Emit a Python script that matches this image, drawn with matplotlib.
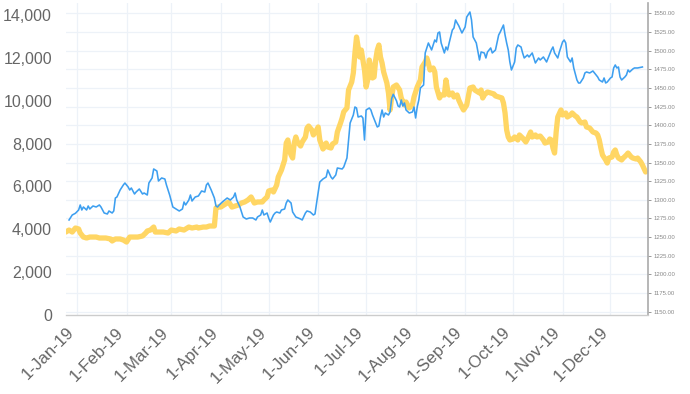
import matplotlib
matplotlib.use("Agg")
import matplotlib.pyplot as plt
import pandas as pd

plt.rcParams['font.family'] = ['Liberation Sans', 'DejaVu Sans']

# ---- data (days offset from 1-Jan-2019) ----
blue_day = [-5, -3, -1, 1, 2, 3, 4, 6, 7, 8, 10, 12, 14, 15, 17, 19, 20, 22, 23, 24, 25, 27, 29, 30,
            32, 33, 34, 36, 37, 39, 41, 42, 44, 45, 47, 48, 50, 51, 53, 55, 56, 58, 60, 62, 64, 66,
            67, 68, 70, 71, 72, 74, 76, 78, 80, 81, 82, 84, 86, 87, 88, 89, 91, 94, 96, 98, 99, 100,
            102, 104, 106, 108, 110, 112, 113, 115, 116, 117, 119, 120, 121, 123, 124, 125, 127, 128,
            130, 131, 132, 134, 135, 137, 140, 141, 143, 144, 146, 148, 149, 150, 152, 154, 156, 157,
            159, 160, 162, 163, 166, 167, 169, 170, 171, 173, 174, 175, 176, 178, 179, 180, 181, 183,
            184, 185, 187, 188, 189, 190, 191, 192, 193, 195, 196, 197, 198, 200, 201, 202, 203, 204,
            205, 206, 208, 210, 211, 212, 213, 214, 215, 217, 218, 219, 220, 222, 223, 224, 225, 226,
            227, 228, 229, 230, 231, 232, 233, 235, 236, 237, 238, 239, 241, 243, 244, 246, 247, 248,
            250, 252, 253, 255, 256, 257, 259, 260, 262, 264, 265, 267, 268, 269, 270, 271, 272, 274,
            275, 276, 278, 279, 280, 282, 283, 285, 286, 287, 289, 290, 292, 294, 295, 297, 298, 299,
            301, 302, 304, 305, 306, 307, 309, 310, 311, 313, 314, 315, 317, 318, 319, 321, 323, 324,
            326, 327, 329, 330, 331, 332, 334, 335, 336, 337, 338, 339, 340, 341, 343, 344, 345, 346,
            348, 349, 351, 354]
blue_val = [4434, 4667, 4746, 4900, 5134, 4900, 5040, 4900, 5087, 4947, 5087, 5040, 5134, 5040, 4760,
            4714, 4854, 4760, 4854, 5460, 5507, 5834, 6067, 6160, 5974, 5834, 5927, 5647, 5740, 5880,
            5647, 5694, 5600, 6160, 6394, 6814, 6720, 6254, 6394, 6347, 6067, 5600, 5040, 4947, 4854,
            4947, 5274, 5134, 5367, 5600, 5320, 5507, 5554, 5787, 5740, 6067, 6160, 5834, 5460, 5087,
            5040, 5134, 5274, 5460, 5367, 5507, 5694, 5367, 5040, 4574, 4480, 4527, 4527, 4434, 4574,
            4667, 4900, 4667, 4760, 4527, 4340, 4667, 4760, 4807, 4760, 4900, 4947, 5227, 5367, 5227,
            4807, 4574, 4480, 4434, 4760, 4854, 4807, 4667, 4714, 5227, 6207, 6347, 6440, 6767, 6440,
            6347, 6534, 6860, 6814, 6907, 7327, 8167, 8960, 9334, 9707, 9660, 9240, 9287, 9194, 8167,
            9567, 9660, 9567, 9334, 8960, 8774, 8820, 9240, 9567, 9240, 9427, 9334, 9474, 10100, 10300,
            10000, 9754, 9707, 10034, 9754, 9894, 9567, 9427, 9474, 9707, 9194, 9707, 10034, 10594,
            10734, 12228, 12461, 12694, 12368, 12601, 12834, 12741, 13161, 13207, 12694, 12461, 12228,
            12508, 12368, 12694, 13300, 13393, 13767, 13627, 13500, 13161, 13440, 13907, 14140, 13767,
            12974, 12694, 11901, 12274, 12228, 11994, 12274, 12461, 12228, 12368, 13067, 13207, 13533,
            13067, 12694, 12368, 11808, 11434, 11808, 12461, 12601, 12508, 12228, 11994, 12134, 12041,
            12228, 11994, 11761, 11994, 11901, 12041, 11808, 11994, 12368, 12508, 12228, 11994, 12274,
            12741, 12834, 12694, 12041, 11808, 11994, 11528, 10967, 10827, 10827, 11061, 11294, 11341,
            11294, 11388, 11294, 11107, 10967, 10874, 11061, 10827, 10874, 11061, 11107, 11528, 11668,
            11528, 11574, 11107, 10967, 11107, 11201, 11434, 11341, 11481, 11528, 11528, 11574]

gold_day = [-7, -5, -3, -1, 1, 2, 4, 6, 8, 10, 12, 14, 18, 21, 22, 24, 27, 29, 31, 33, 35, 38, 41, 43,
            44, 46, 48, 49, 51, 54, 57, 59, 62, 64, 67, 70, 72, 75, 76, 79, 81, 83, 86, 87, 88, 90,
            91, 94, 95, 97, 99, 101, 103, 105, 107, 109, 110, 111, 113, 116, 117, 119, 120, 122, 123,
            125, 126, 128, 130, 131, 132, 133, 134, 135, 136, 137, 138, 140, 141, 143, 144, 145, 147,
            148, 150, 151, 152, 154, 155, 156, 157, 159, 160, 162, 163, 165, 166, 167, 169, 170, 172,
            173, 174, 175, 176, 177, 178, 179, 180, 181, 182, 183, 184, 185, 186, 187, 188, 189, 190,
            191, 192, 194, 195, 196, 197, 198, 200, 202, 203, 205, 206, 208, 210, 211, 212, 213, 215,
            216, 218, 219, 220, 221, 223, 224, 225, 227, 228, 230, 231, 232, 233, 235, 236, 238, 239,
            241, 242, 244, 246, 248, 249, 251, 252, 253, 254, 255, 257, 259, 261, 262, 264, 266, 267,
            268, 269, 270, 271, 273, 274, 276, 277, 279, 281, 282, 284, 285, 287, 288, 290, 292, 293,
            295, 296, 297, 298, 299, 300, 301, 303, 304, 306, 307, 309, 310, 312, 313, 315, 316, 318,
            319, 321, 322, 323, 325, 326, 327, 328, 329, 331, 332, 333, 335, 336, 337, 338, 339, 341,
            342, 344, 345, 347, 348, 350, 351, 353, 354, 356]
gold_val = [1256.8, 1259.5, 1256.8, 1262.2, 1260.9, 1255.5, 1250.1, 1248.8, 1250.1, 1250.1, 1250.1,
            1248.8, 1248.8, 1247.5, 1244.8, 1247.5, 1247.5, 1246.1, 1243.4, 1250.1, 1250.1, 1250.1,
            1251.5, 1255.5, 1258.2, 1259.5, 1263.5, 1256.8, 1256.8, 1256.8, 1255.5, 1259.5, 1258.2,
            1260.9, 1259.5, 1263.5, 1262.2, 1263.5, 1262.2, 1263.5, 1263.5, 1264.9, 1264.9, 1289.0,
            1290.3, 1290.3, 1291.7, 1295.7, 1297.1, 1290.3, 1291.7, 1293.0, 1295.7, 1297.1, 1299.7,
            1303.8, 1299.7, 1295.7, 1297.1, 1297.1, 1299.7, 1303.8, 1311.8, 1313.1, 1310.5, 1319.8,
            1330.6, 1339.9, 1353.4, 1376.1, 1380.2, 1366.8, 1360.1, 1356.0, 1376.1, 1384.2, 1377.5,
            1372.1, 1377.5, 1384.2, 1396.2, 1398.9, 1393.6, 1386.9, 1393.6, 1397.6, 1380.2, 1368.1,
            1370.8, 1376.1, 1370.8, 1369.4, 1374.8, 1377.5, 1390.9, 1403.0, 1409.7, 1418.0, 1423.1,
            1447.2, 1457.9, 1470.0, 1496.8, 1518.2, 1504.8, 1491.4, 1500.8, 1487.4, 1474.0, 1451.2,
            1460.6, 1487.4, 1478.0, 1463.3, 1464.6, 1487.4, 1500.8, 1507.5, 1491.4, 1483.4, 1471.3,
            1456.6, 1443.2, 1420.4, 1437.8, 1451.2, 1453.9, 1447.2, 1436.5, 1427.1, 1431.1, 1423.1,
            1427.1, 1437.8, 1444.5, 1451.2, 1460.6, 1478.0, 1484.7, 1490.1, 1483.4, 1474.0, 1476.7,
            1471.3, 1451.2, 1436.5, 1440.5, 1440.5, 1460.6, 1447.2, 1440.5, 1443.2, 1437.8, 1440.5,
            1433.8, 1424.4, 1420.4, 1427.1, 1449.9, 1451.2, 1447.2, 1444.5, 1443.2, 1447.2, 1436.5,
            1440.5, 1444.5, 1443.2, 1441.9, 1439.2, 1437.8, 1436.5, 1429.8, 1416.4, 1393.6, 1384.2,
            1380.2, 1381.5, 1384.2, 1380.2, 1386.9, 1382.8, 1377.5, 1381.5, 1390.9, 1384.2, 1386.9,
            1384.2, 1385.5, 1380.2, 1376.1, 1377.5, 1381.5, 1380.2, 1369.4, 1362.7, 1390.9, 1411.0,
            1420.4, 1413.7, 1416.4, 1411.0, 1413.7, 1416.4, 1412.3, 1411.0, 1404.3, 1403.0, 1404.3,
            1397.6, 1396.2, 1393.6, 1390.9, 1389.5, 1386.9, 1380.2, 1369.4, 1360.1, 1353.4, 1349.3,
            1356.0, 1357.4, 1364.1, 1366.8, 1360.1, 1356.0, 1353.4, 1356.0, 1360.1, 1362.7, 1357.4,
            1356.0, 1354.7, 1356.0, 1350.7, 1346.7, 1337.3]

month_labels = ['1-Jan-19', '1-Feb-19', '1-Mar-19', '1-Apr-19', '1-May-19', '1-Jun-19',
                '1-Jul-19', '1-Aug-19', '1-Sep-19', '1-Oct-19', '1-Nov-19', '1-Dec-19']
left_ticks = [0, 2000, 4000, 6000, 8000, 10000, 12000, 14000]
right_ticks = list(range(1150, 1551, 25))

base = pd.Timestamp('2019-01-01')
blue_dates = base + pd.to_timedelta(blue_day, unit='D')
gold_dates = base + pd.to_timedelta(gold_day, unit='D')
month_pos = pd.date_range('2019-01-01', periods=12, freq='MS')

fig = plt.figure(figsize=(6.9, 3.94), dpi=100)
ax = fig.add_axes([66/690, 1-315/394, (648-66)/690, (315-3)/394])   # gold, right axis
ax2 = ax.twinx()                                                    # blue, left axis

grid_c = '#edf2f8'
ax.set_ylim(1145.6, 1563.8)
ax.set_xlim(base + pd.Timedelta(days=-6.9), base + pd.Timedelta(days=357.5))
for v in right_ticks:
    ax.axhline(v, color=grid_c, lw=0.9, zorder=0)
for d in month_pos:
    ax.axvline(d, color=grid_c, lw=0.9, zorder=0)

ax.plot(gold_dates, gold_val, color='#ffd664', lw=3.8, solid_joinstyle='round',
        solid_capstyle='round', zorder=2)
ax2.plot(blue_dates, blue_val, color='#3d9ff0', lw=1.15, zorder=3)
ax2.set_ylim(0, 14560)

# right axis styling
ax.yaxis.tick_right()
ax.set_yticks(right_ticks)
ax.set_yticklabels([f'{v:.2f}' for v in right_ticks])
ax.tick_params(axis='y', labelsize=4.3, colors='#888888', length=2.5, width=0.6, pad=1.5)
for s in ['top', 'left', 'bottom']:
    ax.spines[s].set_visible(False)
ax.spines['right'].set_color('#aaaaaa')
ax.spines['right'].set_linewidth(1.2)

# left axis styling
ax2.yaxis.tick_left()
ax2.set_yticks(left_ticks)
ax2.set_yticklabels([f'{v:,}' for v in left_ticks])
ax2.tick_params(axis='y', labelsize=11.5, colors='#666666', length=0, pad=10)
for s in ['top', 'right', 'left']:
    ax2.spines[s].set_visible(False)
ax2.spines['bottom'].set_color('#cccccc')
ax2.spines['bottom'].set_linewidth(1.0)

# x axis
ax.set_xticks(month_pos)
ax.set_xticklabels(month_labels, rotation=45, ha='right')
ax.tick_params(axis='x', labelsize=12.2, labelcolor='#666666', length=0, pad=7)
ax2.tick_params(axis='x', labelbottom=False, length=0)

fig.savefig('out.png', dpi=100)
